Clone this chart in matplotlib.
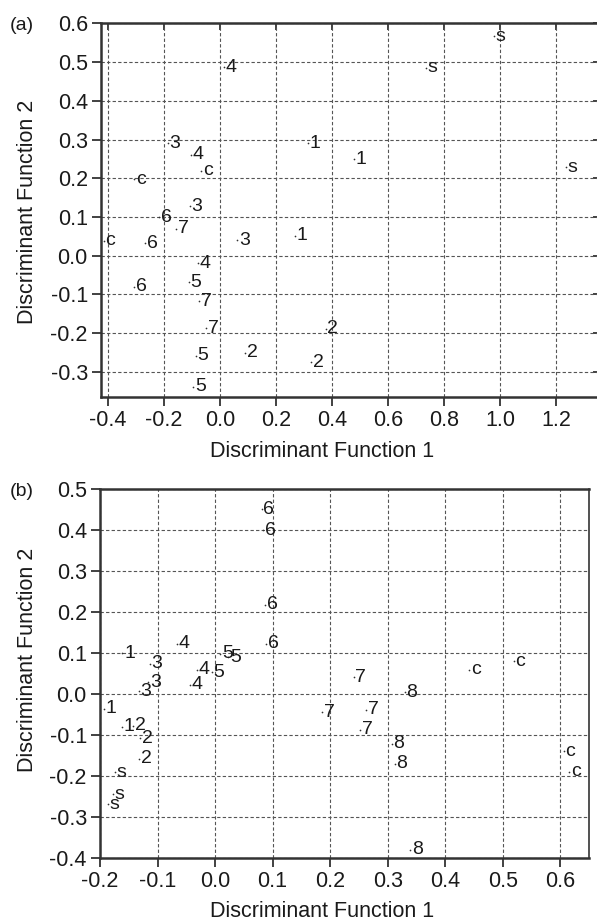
import matplotlib
matplotlib.use("Agg")
import matplotlib.pyplot as plt

plt.rcParams['font.family'] = ['Liberation Sans', 'DejaVu Sans']

# ---- Panel (a) data ----
a_labels = ['1', '1', '1',
            '2', '2', '2',
            '3', '3', '3',
            '4', '4', '4',
            '5', '5', '5',
            '6', '6', '6',
            '7', '7', '7',
            'c', 'c', 'c',
            's', 's', 's']
a_x = [0.314, 0.479, 0.268,
       0.089, 0.377, 0.325,
       -0.186, -0.107, 0.061,
       0.015, -0.104, -0.079,
       -0.111, -0.086, -0.096,
       -0.218, -0.268, -0.307,
       -0.157, -0.075, -0.050,
       -0.068, -0.307, -0.415,
       0.979, 0.736, 1.236]
a_y = [0.290, 0.249, 0.052,
       -0.250, -0.189, -0.275,
       0.290, 0.128, 0.040,
       0.487, 0.261, -0.020,
       -0.069, -0.258, -0.338,
       0.099, 0.032, -0.080,
       0.069, -0.117, -0.187,
       0.219, 0.198, 0.039,
       0.567, 0.485, 0.228]
a_xticks = [-0.4, -0.2, 0.0, 0.2, 0.4, 0.6, 0.8, 1.0, 1.2]
a_yticks = [-0.3, -0.2, -0.1, 0.0, 0.1, 0.2, 0.3, 0.4, 0.5, 0.6]

# ---- Panel (b) data ----
b_labels = ['1', '1', '1',
            '2', '2', '2',
            '3', '3', '3',
            '4', '4', '4',
            '5', '5', '5',
            '6', '6', '6', '6',
            '7', '7', '7', '7',
            '8', '8', '8', '8',
            'c', 'c', 'c', 'c',
            's', 's', 's']
b_x = [-0.161, -0.193, -0.162,
       -0.142, -0.130, -0.132,
       -0.113, -0.116, -0.133,
       -0.067, -0.032, -0.043,
       0.009, 0.023, -0.006,
       0.081, 0.084, 0.087, 0.089,
       0.241, 0.186, 0.263, 0.252,
       0.330, 0.307, 0.312, 0.339,
       0.442, 0.519, 0.606, 0.616,
       -0.174, -0.177, -0.186]
b_y = [0.099, -0.037, -0.080,
       -0.078, -0.108, -0.159,
       0.073, 0.028, 0.006,
       0.122, 0.059, 0.022,
       0.098, 0.089, 0.053,
       0.450, 0.399, 0.218, 0.122,
       0.041, -0.045, -0.039, -0.088,
       0.004, -0.122, -0.171, -0.381,
       0.059, 0.079, -0.140, -0.190,
       -0.192, -0.245, -0.269]
b_xticks = [-0.2, -0.1, 0.0, 0.1, 0.2, 0.3, 0.4, 0.5, 0.6]
b_yticks = [-0.4, -0.3, -0.2, -0.1, 0.0, 0.1, 0.2, 0.3, 0.4, 0.5]

xlabel = 'Discriminant Function 1'
ylabel = 'Discriminant Function 2'

fig = plt.figure(figsize=(5.97, 9.24), dpi=100)

W, H = 597.0, 924.0
def ax_rect(l, r, t, b):
    return [l / W, 1 - b / H, (r - l) / W, (b - t) / H]

ax_a = fig.add_axes(ax_rect(101, 600, 23.3, 396.7))
ax_b = fig.add_axes(ax_rect(100, 589, 489, 857.7))

txtc = '#1a1a1a'
tick_fs = 15.5
label_fs = 15.5
pt_fs = 14
spc = '#333333'

def style(ax, xticks, yticks, xlim, ylim):
    ax.set_xlim(*xlim)
    ax.set_ylim(*ylim)
    ax.set_xticks(xticks)
    ax.set_yticks(yticks)
    ax.set_xticklabels([f'{v:.1f}' for v in xticks])
    ax.set_yticklabels([f'{v:.1f}' for v in yticks])
    ax.grid(True, color='#555555', linestyle=(0, (3, 2)), linewidth=0.8)
    ax.set_axisbelow(True)
    for s in ['left', 'bottom', 'top']:
        ax.spines[s].set_linewidth(1.8)
        ax.spines[s].set_color(spc)
    ax.spines['right'].set_linewidth(1.2)
    ax.spines['right'].set_color(spc)
    ax.tick_params(axis='both', which='major', direction='out', length=6.5,
                   width=1.3, color=spc, labelsize=tick_fs, pad=3,
                   labelcolor=txtc)


def draw_points(ax, xs, ys, labels):
    ax.scatter(xs, ys, s=1.5, color=spc, zorder=3, linewidths=0)
    for x, y, lab in zip(xs, ys, labels):
        ax.annotate(lab, (x, y), xytext=(1.2, 0), textcoords='offset points',
                    ha='left', va='center', fontsize=pt_fs, color=txtc,
                    zorder=4, annotation_clip=False)

style(ax_a, a_xticks, a_yticks, (-0.425, 1.357), (-0.364, 0.6))
draw_points(ax_a, a_x, a_y, a_labels)
ax_a.set_xlabel(xlabel, fontsize=label_fs, color=txtc)
ax_a.set_ylabel(ylabel, fontsize=label_fs, color=txtc)
ax_a.xaxis.set_label_coords(0.446 * 495 / 499, -0.148)
ax_a.xaxis.label.set_va('center')
ax_a.yaxis.set_label_coords(-0.149 * 495 / 499, 0.495)
ax_a.yaxis.label.set_va('center')
# inward ticks on top and right of panel (a)
sx = ax_a.secondary_xaxis('top')
sx.set_xticks(a_xticks)
sx.set_xticklabels([])
sx.tick_params(direction='in', length=5, width=1.3, color=spc)
sx.spines['top'].set_visible(False)
sy = ax_a.secondary_yaxis('right')
sy.set_yticks(a_yticks)
sy.set_yticklabels([])
sy.tick_params(direction='in', length=5, width=1.3, color=spc)
sy.spines['right'].set_visible(False)

style(ax_b, b_xticks, b_yticks, (-0.2, 0.65), (-0.4, 0.5))
draw_points(ax_b, b_x, b_y, b_labels)
ax_b.set_xlabel(xlabel, fontsize=label_fs, color=txtc)
ax_b.set_ylabel(ylabel, fontsize=label_fs, color=txtc)
ax_b.xaxis.set_label_coords(0.454, -0.147)
ax_b.xaxis.label.set_va('center')
ax_b.yaxis.set_label_coords(-0.149, 0.536)
ax_b.yaxis.label.set_va('center')

fig.text(10 / W, 1 - 25 / H, '(a)', fontsize=14, color=txtc, ha='left', va='center')
fig.text(10 / W, 1 - 491 / H, '(b)', fontsize=14, color=txtc, ha='left', va='center')

fig.savefig('out.png', dpi=100, facecolor='white')
